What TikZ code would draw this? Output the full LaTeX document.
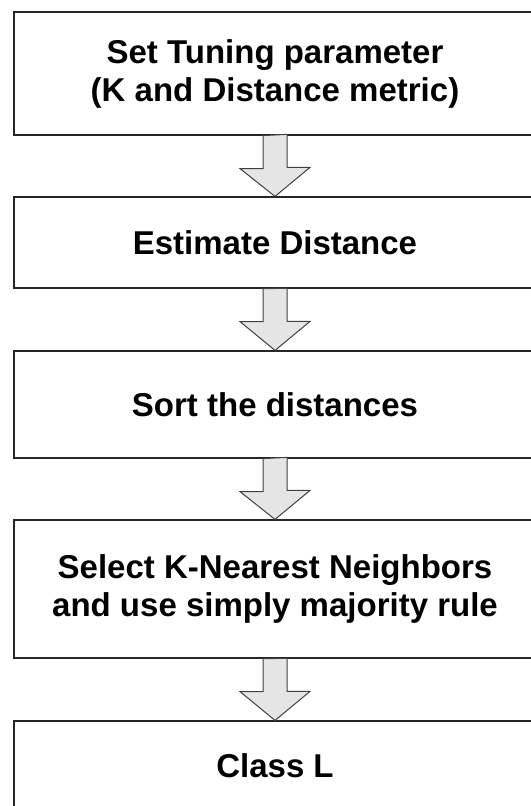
\documentclass[tikz,border=0pt]{standalone}
\usepackage{fontspec}
\setmainfont{Liberation Sans}
\usepackage{tikz}
\usetikzlibrary{calc}
\usetikzlibrary{positioning}
\usetikzlibrary{arrows.meta}

\begin{document}
\begin{tikzpicture}[x=0.5pt,y=-0.5pt]
\tikzstyle{box}=[rectangle,align=center,draw=black!85,line width=0.6pt,fill=white,minimum width=261pt,font=\fontsize{16.5}{19}\selectfont\bfseries]
\tikzstyle{flow}=[draw=black!75,line width=0.5pt,fill=black!10,line join=miter]
\useasboundingbox (0,0) rectangle (530,806);
\node[box,minimum height=61.5pt] at(275, 73.5) (a) {Set Tuning parameter\\(K and Distance metric)};
\node[box,minimum height=45.5pt] at(275, 242.5) (b) {Estimate Distance};
\node[box,minimum height=53.5pt] at(275, 404.5) (c) {Sort the distances};
\node[box,minimum height=69pt] at(275, 589) (d) {Select K-Nearest Neighbors\\and use simply majority rule};
\node[box,minimum height=44.5pt] at(275, 765.5) (e) {Class L};
\foreach \u/\v in {a/b,b/c,c/d,d/e}
    \draw[flow] (\u.south) ++(-12,0) -- ++(0,33) -- ++(-23,0) -- (\v.north) -- ++(35,-29) -- ++(-23,0) -- ++(0,-33) -- cycle;
\end{tikzpicture}
\end{document}
